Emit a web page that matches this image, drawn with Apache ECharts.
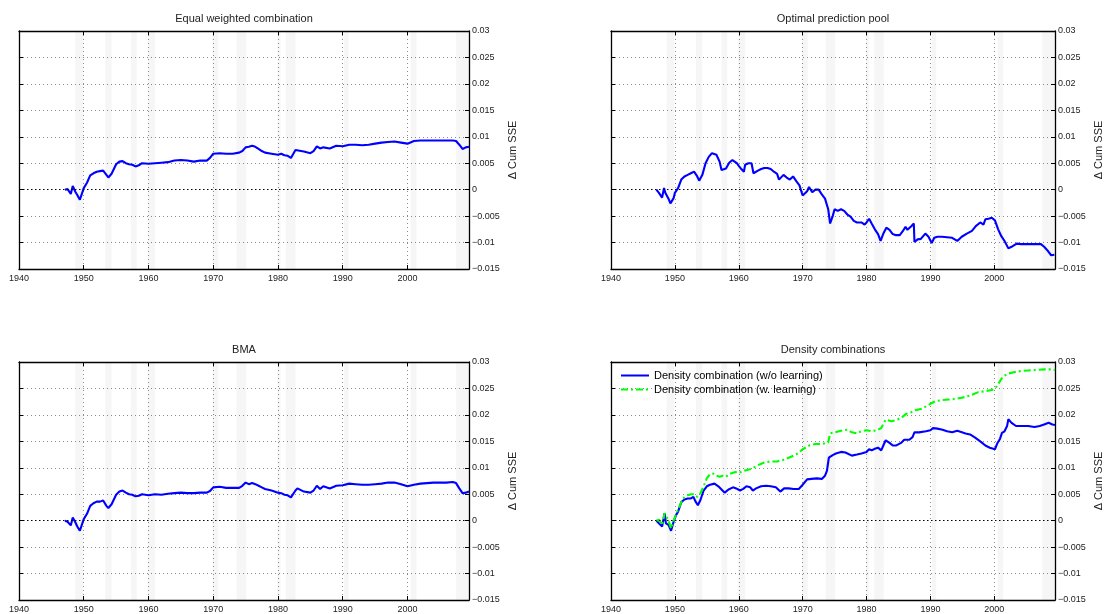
<!DOCTYPE html>
<html><head><meta charset="utf-8">
<script src="https://cdn.jsdelivr.net/npm/echarts@6/dist/echarts.min.js"></script>
<style>html,body{margin:0;padding:0;background:#fff}#c{width:1109px;height:614px}</style>
</head><body><div id="c"></div>
<script>
// ---- data ----
const panelTitles = ['Equal weighted combination','Optimal prediction pool','BMA','Density combinations'];
const legendNames = ['Density combination (w/o learning)','Density combination (w. learning)'];
const yAxisName = '\u0394 Cum SSE';

// recession shading periods (start, end)
const recessions = [[1948.7,1949.9],[1953.3,1954.3],[1957.3,1958.2],[1959.9,1961.0],[1969.9,1970.8],
  [1973.6,1975.1],[1979.9,1980.4],[1981.2,1982.7],[1990.2,1990.9],[2000.5,2001.4],[2007.5,2009.5]];

// time points shared by Equal weighted and BMA
const tEB = [1947.1,1947.5,1948,1948.3,1948.7,1949,1949.4,1950,1950.5,1951,1951.5,1952,1952.5,1953,1953.5,1953.8,1954.3,
  1955,1955.5,1956,1956.5,1957,1957.5,1958,1958.5,1959,1960,1961,1962,1963,1964,1965,1966,1967,1968,1969,1969.5,
  1970,1971,1972,1973,1974,1974.5,1975,1975.5,1976,1976.5,1977,1977.5,1978,1979,1980,1980.5,1981,1981.5,1982,1982.3,
  1982.7,1983,1984,1985,1985.5,1986,1986.5,1987,1988,1989,1990,1991,1992,1993,1994,1995,1996,1997,1998,1999,2000,
  2001,2002,2003,2004,2005,2006,2007,2007.5,2008,2008.5,2009,2009.5];
const vEW = [0,0.0001,-0.0008,0.0007,-0.0004,-0.001,-0.0019,0.0003,0.0013,0.0027,0.0031,0.0034,0.0035,0.0036,0.0028,0.0023,0.003,
  0.0048,0.0053,0.0054,0.005,0.0048,0.0047,0.0044,0.0046,0.005,0.0049,0.005,0.0051,0.0052,0.0055,0.0056,0.0055,0.0053,0.0055,0.0055,0.006,
  0.0068,0.0069,0.0068,0.0068,0.007,0.0073,0.008,0.0081,0.0083,0.0081,0.0077,0.0073,0.007,0.0068,0.0066,0.0068,0.0065,0.0064,0.006,0.0058,
  0.0075,0.0078,0.0072,0.0069,0.0073,0.0082,0.0078,0.008,0.0078,0.0083,0.0082,0.0085,0.0085,0.0084,0.0085,0.0087,0.0089,0.009,0.0091,0.0089,0.0087,
  0.0092,0.0093,0.0093,0.0093,0.0093,0.0093,0.0093,0.0092,0.0085,0.0077,0.008,0.0081];
const vBMA = [0,-0.0002,-0.0009,0.0006,-0.0003,-0.0011,-0.0019,0.0003,0.0013,0.0028,0.0033,0.0036,0.0036,0.0038,0.0028,0.0024,0.0031,
  0.0049,0.0055,0.0057,0.0053,0.005,0.0049,0.0046,0.0047,0.005,0.0048,0.005,0.0049,0.0051,0.0052,0.0053,0.0052,0.0052,0.0053,0.0053,0.0056,
  0.0063,0.0064,0.0062,0.0062,0.0062,0.0066,0.0072,0.0069,0.0071,0.0069,0.0066,0.0063,0.006,0.0057,0.0053,0.0052,0.0049,0.0048,0.0044,0.0041,
  0.0057,0.0061,0.0055,0.0053,0.0057,0.0066,0.006,0.0065,0.0061,0.0066,0.0067,0.007,0.0069,0.0068,0.0068,0.0069,0.007,0.0072,0.0072,0.0069,0.0065,
  0.0068,0.007,0.0071,0.0072,0.0072,0.0072,0.0073,0.0071,0.0061,0.0052,0.0053,0.0055];

// Optimal prediction pool
const tOPP = [1947.1,1947.5,1948,1948.3,1948.5,1949,1949.3,1949.8,1950,1950.5,
  1951,1951.5,1952,1952.5,1953,1953.5,1953.8,1954.3,1954.8,1955.3,
  1955.8,1956.1,1956.5,1957,1957.3,1957.6,1958,1958.5,1959,1959.3,
  1959.7,1960,1960.4,1960.8,1961,1961.5,1962,1962.3,1962.6,1963,
  1963.5,1964,1964.5,1965,1965.5,1966,1966.3,1966.6,1967,1967.5,
  1968,1968.5,1969,1969.5,1970,1970.3,1970.7,1971,1971.5,1972,
  1972.5,1973,1973.5,1974,1974.3,1974.7,1975,1975.5,1976,1976.5,
  1977,1977.5,1978,1978.5,1979.2,1979.7,1980,1980.4,1980.8,1981.3,
  1981.8,1982.2,1982.6,1983.1,1983.6,1984.1,1984.6,1985.2,1985.7,1986.1,
  1986.4,1987,1987.4,1987.5,1988,1988.5,1989.2,1989.7,1990.2,1990.6,
  1991.1,1991.8,1992.6,1993.4,1994.2,1994.9,1995.7,1996.5,1997.1,1997.8,
  1998.3,1998.6,1999.1,1999.6,2000.1,2000.6,2001.1,2001.6,2002.2,2002.7,
  2003.5,2004.2,2005.3,2006.3,2007.3,2007.8,2008.4,2008.9,2009.4];
const vOPP = [0,-0.0006,-0.0015,0.0003,-0.0006,-0.0017,-0.0026,-0.0016,-0.0006,0.0003,
  0.0019,0.0025,0.0028,0.0031,0.0034,0.0025,0.0017,0.0028,0.005,0.0062,
  0.0069,0.0072,0.0066,0.0053,0.0037,0.0034,0.004,0.0051,0.0056,0.0057,
  0.005,0.0045,0.0039,0.0034,0.0047,0.005,0.005,0.0031,0.0028,0.0036,
  0.0039,0.0041,0.0041,0.0039,0.0034,0.003,0.0019,0.0022,0.0028,0.0023,
  0.0019,0.0025,0.0016,0.0008,-0.0011,-0.0013,-0.0003,0.0005,-0.0005,0,
  0,-0.0009,-0.0017,-0.0037,-0.0064,-0.005,-0.0037,-0.004,-0.0037,-0.004,
  -0.0047,-0.0051,-0.0059,-0.0062,-0.0062,-0.0066,-0.0062,-0.0055,-0.0064,-0.0075,
  -0.0084,-0.0097,-0.0084,-0.0072,-0.0076,-0.0084,-0.0086,-0.0086,-0.0078,-0.007,
  -0.0076,-0.0069,-0.0064,-0.0099,-0.0094,-0.0093,-0.0083,-0.0089,-0.0101,-0.0091,
  -0.0089,-0.0089,-0.009,-0.0091,-0.0097,-0.0089,-0.0083,-0.0078,-0.0069,-0.0062,
  -0.0066,-0.0056,-0.0055,-0.0053,-0.0058,-0.0075,-0.0088,-0.0097,-0.0111,-0.0108,
  -0.0102,-0.0103,-0.0103,-0.0103,-0.0103,-0.0108,-0.0116,-0.0124,-0.0123];

// Density combination (w/o learning)
const tDB = [1947.1,1947.5,1948,1948.4,1948.6,1949,1949.4,1949.8,1950.2,1950.5,
  1951,1951.5,1952,1952.5,1952.9,1953.2,1953.6,1954,1954.5,1955,
  1955.5,1956.2,1956.8,1957.3,1957.8,1958.4,1959.1,1959.6,1960.2,1960.7,
  1961.2,1961.8,1962.2,1962.7,1963.5,1964.3,1965,1965.8,1966.5,1967.1,
  1967.8,1968.6,1969.4,1970,1970.7,1971.4,1972.2,1973,1973.5,1973.8,
  1974.1,1974.7,1975.2,1976,1976.7,1977.7,1978.5,1979.2,1980,1980.4,
  1980.8,1981.3,1981.8,1982.3,1982.7,1983,1983.6,1984.1,1984.6,1985.4,
  1985.9,1986.7,1987.2,1987.5,1988.2,1989.3,1990,1990.4,1991.1,1991.9,
  1992.6,1993.4,1994.2,1994.7,1995.5,1996.2,1997,1997.8,1998,1998.6,
  1999.3,2000.1,2000.5,2000.9,2001.2,2001.6,2002,2002.2,2002.7,2003.4,
  2004.2,2005.3,2006.3,2007.1,2007.8,2008.5,2009.1,2009.5];
const vDB = [0,-0.0005,-0.0011,0.0014,-0.0005,-0.0008,-0.0019,-0.0002,0.0011,0.0017,
  0.0035,0.004,0.0042,0.0042,0.0045,0.0037,0.0029,0.0039,0.0057,0.0065,
  0.0068,0.007,0.0065,0.0059,0.0053,0.0059,0.0063,0.0061,0.0057,0.006,
  0.0065,0.0063,0.0057,0.0061,0.0065,0.0066,0.0065,0.0063,0.0055,0.0061,
  0.0061,0.006,0.006,0.0068,0.0078,0.0079,0.008,0.0079,0.0085,0.0094,
  0.0119,0.0124,0.0127,0.013,0.0129,0.0123,0.0125,0.0127,0.013,0.0135,
  0.0133,0.0136,0.0138,0.0133,0.0144,0.0152,0.0147,0.0142,0.0142,0.0147,
  0.0153,0.0153,0.0158,0.0167,0.0167,0.0169,0.0171,0.0175,0.0174,0.0172,
  0.0169,0.0167,0.017,0.0168,0.0165,0.0163,0.0157,0.015,0.0153,0.0142,
  0.0138,0.0135,0.0147,0.0155,0.0166,0.0169,0.0179,0.0192,0.0185,0.0179,
  0.0179,0.0179,0.0177,0.0179,0.0182,0.0185,0.0182,0.0181];

// Density combination (w. learning)
const tDG = [1947.1,1947.5,1948,1948.4,1949,1949.4,1949.8,1950.3,1951,1951.5,
  1952,1952.5,1953,1953.5,1954,1954.5,1955,1955.5,1956,1956.5,
  1957,1957.5,1958,1958.5,1959,1959.5,1960,1960.5,1961,1962,
  1963,1964,1965,1966,1967,1968,1969,1970,1971,1972,
  1973,1974,1974.3,1975,1976,1977,1977.7,1978.5,1979.2,1980,
  1980.8,1981.6,1982.3,1983,1983.9,1984.6,1985.4,1986.2,1987,1987.7,
  1988.5,1989.3,1990,1990.8,1991.9,1992.9,1993.9,1994.7,1995.5,1996.5,
  1997.5,1998.6,1999.6,2000.2,2000.6,2001.1,2001.6,2002.1,2003.2,2004.2,
  2005.3,2006.5,2007.8,2009.1,2009.5];
const vDG = [0,0.0002,-0.0008,0.0014,0,-0.0015,0,0.0015,0.0035,0.0045,
  0.0048,0.005,0.005,0.0045,0.0052,0.0065,0.008,0.0088,0.0089,0.0085,
  0.0083,0.0085,0.0083,0.0088,0.009,0.0092,0.009,0.0093,0.0095,0.0098,
  0.0105,0.011,0.0112,0.0112,0.0115,0.012,0.0125,0.0135,0.0142,0.0145,
  0.0145,0.0148,0.0165,0.0167,0.017,0.0172,0.0167,0.0165,0.0169,0.0171,
  0.0169,0.0171,0.0175,0.0191,0.0188,0.019,0.0194,0.0202,0.0205,0.0209,
  0.0211,0.0216,0.0221,0.0226,0.0228,0.0229,0.023,0.0232,0.0234,0.0238,
  0.0243,0.0245,0.0247,0.0251,0.0258,0.0268,0.0274,0.0278,0.0281,0.0283,
  0.0284,0.0285,0.0286,0.0286,0.0285];

// ---- chart ----
const FONT = '"Liberation Sans", Arial, Helvetica, sans-serif';
const pairs = (t, v) => t.map((x, i) => [x, v[i]]);
const grids = [
  {left:19, top:31, width:450, height:238},
  {left:611, top:31, width:444, height:238},
  {left:19, top:362, width:450, height:239},
  {left:611, top:362, width:444, height:239}
];
const panelSeries = [
  [{name:'EW', data:pairs(tEB, vEW), color:'#0000ff', type:'solid'}],
  [{name:'OPP', data:pairs(tOPP, vOPP), color:'#0000ff', type:'solid'}],
  [{name:'BMA', data:pairs(tEB, vBMA), color:'#0000ff', type:'solid'}],
  [{name:legendNames[0], data:pairs(tDB, vDB), color:'#0000ff', type:'solid'},
   {name:legendNames[1], data:pairs(tDG, vDG), color:'#00ff00', type:[7,3,2,3]}]
];
const yFmt = v => { const r = Math.round(v*1000)/1000; return r < 0 ? '\u2212' + Math.abs(r) : String(r); };
const axisLine = {show:true, onZero:false, lineStyle:{color:'#000', width:1.3}};
const tick = {show:true, inside:true, length:4, lineStyle:{color:'#000', width:1}};
const split = {show:true, lineStyle:{color:'#8a8a8a', type:[1,3], width:1}};

const xAxis = [], yAxis = [], series = [], graphic = [];
grids.forEach((g, i) => {
  xAxis.push({type:'value', gridIndex:i, min:1940, max:2009.5, interval:10, position:'bottom',
    axisLine, axisTick:tick, splitLine:split,
    axisLabel:{color:'#222', fontSize:9, fontFamily:FONT, margin:5, showMaxLabel:false,
      formatter: v => (Math.abs(v % 10) < 1e-6 ? String(v) : '')}});
  xAxis.push({type:'value', gridIndex:i, min:1940, max:2009.5, interval:10, position:'top',
    axisLine, axisTick:tick, splitLine:{show:false}, axisLabel:{show:false}});
  yAxis.push({type:'value', gridIndex:i, min:-0.015, max:0.03, interval:0.005, position:'right',
    name:yAxisName, nameLocation:'middle', nameRotate:90, nameGap:38,
    nameTextStyle:{fontSize:11, color:'#222', fontFamily:FONT},
    axisLine, axisTick:tick, splitLine:split,
    axisLabel:{color:'#222', fontSize:9, fontFamily:FONT, margin:3, formatter:yFmt}});
  yAxis.push({type:'value', gridIndex:i, min:-0.015, max:0.03, interval:0.005, position:'left',
    axisLine, axisTick:tick, splitLine:{show:false}, axisLabel:{show:false}});
  panelSeries[i].forEach((s, k) => {
    const ser = {type:'line', name:s.name, xAxisIndex:2*i, yAxisIndex:2*i, data:s.data,
      symbol:'none', animation:false, z:3+k,
      lineStyle:{color:s.color, width:2.1, type:s.type}, itemStyle:{color:s.color}};
    if (k === 0) {
      ser.markArea = {silent:true, itemStyle:{color:'rgba(0,0,0,0.035)'},
        data: recessions.map(r => [{xAxis:r[0]}, {xAxis:r[1]}])};
      ser.markLine = {silent:true, symbol:'none', label:{show:false}, animation:false,
        lineStyle:{color:'#000', type:[1.5,2.5], width:1.2}, data:[{yAxis:0}]};
    }
    series.push(ser);
  });
  graphic.push({type:'text', x:g.left + g.width/2, y:g.top - 12,
    style:{text:panelTitles[i], font:'11px ' + FONT, fill:'#222', align:'center', verticalAlign:'middle'}});
});

const chart = echarts.init(document.getElementById('c'), null, {renderer:'canvas'});
chart.setOption({
  backgroundColor:'#fff',
  animation:false,
  grid: grids,
  xAxis, yAxis, series, graphic,
  legend:{data:legendNames, orient:'vertical', left:620, top:370, itemWidth:28, itemHeight:12,
    itemGap:3, padding:0, selectedMode:false, itemStyle:{opacity:0},
    textStyle:{fontSize:11, color:'#000', fontFamily:FONT}}
});
</script></body></html>
